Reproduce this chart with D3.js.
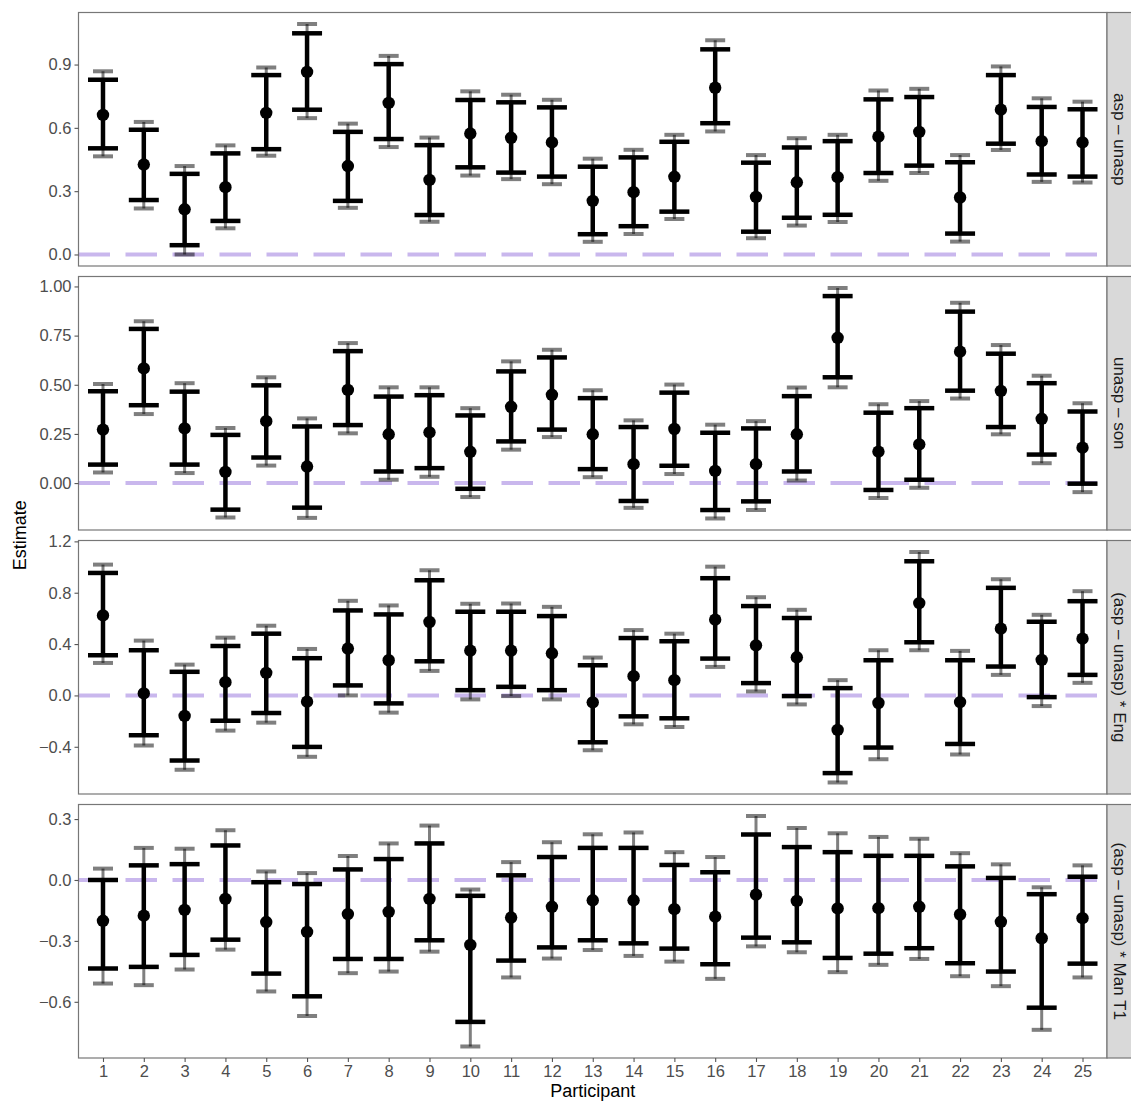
<!DOCTYPE html>
<html>
<head>
<meta charset="utf-8">
<script src="https://cdn.jsdelivr.net/npm/d3@7"></script>
<style>
  body { margin: 0; background: #fff; }
  svg text { font-family: "Liberation Sans", Arial, Helvetica, sans-serif; }
</style>
</head>
<body>
<div id="chart"></div>
<script>
// participants on the x axis
const participants = d3.range(1, 26);

const facetLabels = ["asp – unasp", "unasp – son", "(asp – unasp) * Eng", "(asp – unasp) * Man T1"];

// y tick values per facet
const ticks1 = [0, 0.3, 0.6, 0.9];
const ticks2 = [0, 0.25, 0.5, 0.75, 1.0];
const ticks3 = [-0.4, 0, 0.4, 0.8, 1.2];
const ticks4 = [-0.6, -0.3, 0, 0.3];

// asp - unasp
const est1     = [0.661,0.426,0.214,0.319,0.671,0.865,0.419,0.718,0.353,0.573,0.553,0.531,0.254,0.295,0.368,0.790,0.273,0.342,0.366,0.558,0.581,0.270,0.686,0.537,0.531];
const innerLo1 = [0.503,0.258,0.044,0.159,0.499,0.686,0.254,0.547,0.187,0.413,0.388,0.369,0.096,0.134,0.203,0.622,0.108,0.174,0.188,0.386,0.421,0.099,0.525,0.379,0.369];
const innerHi1 = [0.828,0.591,0.382,0.479,0.850,1.048,0.581,0.902,0.518,0.732,0.721,0.697,0.416,0.460,0.534,0.972,0.435,0.507,0.537,0.735,0.746,0.437,0.850,0.699,0.688];
const outerLo1 = [0.465,0.218,0.000,0.124,0.468,0.646,0.221,0.509,0.155,0.374,0.357,0.333,0.060,0.097,0.168,0.583,0.077,0.137,0.154,0.349,0.386,0.061,0.495,0.344,0.341];
const outerHi1 = [0.868,0.628,0.419,0.517,0.886,1.092,0.620,0.941,0.554,0.773,0.757,0.733,0.454,0.496,0.567,1.015,0.471,0.551,0.567,0.777,0.785,0.471,0.891,0.740,0.724];

// unasp - son
const est2     = [0.272,0.583,0.278,0.057,0.315,0.084,0.474,0.248,0.258,0.159,0.388,0.449,0.248,0.096,0.275,0.062,0.096,0.248,0.739,0.160,0.197,0.668,0.469,0.327,0.180];
const innerLo2 = [0.094,0.396,0.094,-0.135,0.130,-0.125,0.295,0.059,0.076,-0.029,0.212,0.272,0.071,-0.091,0.088,-0.137,-0.093,0.059,0.538,-0.035,0.017,0.470,0.285,0.145,-0.003];
const innerHi2 = [0.467,0.784,0.465,0.245,0.497,0.288,0.671,0.440,0.447,0.344,0.568,0.639,0.432,0.285,0.460,0.256,0.278,0.442,0.951,0.358,0.381,0.872,0.658,0.508,0.364];
const outerLo2 = [0.054,0.351,0.051,-0.175,0.089,-0.177,0.253,0.017,0.032,-0.071,0.170,0.234,0.030,-0.126,0.046,-0.180,-0.137,0.013,0.487,-0.076,-0.024,0.430,0.248,0.101,-0.046];
const outerHi2 = [0.504,0.823,0.508,0.280,0.538,0.329,0.712,0.487,0.487,0.381,0.619,0.678,0.472,0.319,0.501,0.297,0.315,0.486,0.992,0.401,0.417,0.917,0.702,0.546,0.406];

// (asp - unasp) * Eng
const est3     = [0.623,0.016,-0.160,0.103,0.176,-0.049,0.365,0.274,0.572,0.349,0.349,0.328,-0.054,0.150,0.119,0.590,0.390,0.297,-0.269,-0.059,0.719,-0.052,0.520,0.277,0.442];
const innerLo3 = [0.313,-0.310,-0.507,-0.197,-0.137,-0.401,0.078,-0.062,0.266,0.041,0.067,0.041,-0.365,-0.163,-0.178,0.287,0.096,-0.005,-0.605,-0.406,0.414,-0.378,0.225,-0.013,0.160];
const innerHi3 = [0.954,0.352,0.184,0.385,0.481,0.290,0.662,0.631,0.897,0.652,0.652,0.618,0.235,0.447,0.422,0.913,0.696,0.603,0.057,0.274,1.045,0.274,0.838,0.574,0.734];
const outerLo3 = [0.253,-0.390,-0.579,-0.274,-0.212,-0.478,0.000,-0.134,0.191,-0.031,-0.005,-0.031,-0.427,-0.225,-0.246,0.222,0.031,-0.070,-0.678,-0.497,0.352,-0.460,0.160,-0.083,0.098];
const outerHi3 = [1.019,0.427,0.240,0.450,0.543,0.362,0.737,0.701,0.975,0.714,0.716,0.690,0.295,0.509,0.481,1.003,0.765,0.667,0.119,0.352,1.117,0.347,0.905,0.628,0.812];

// (asp - unasp) * Man T1
const est4     = [-0.201,-0.176,-0.147,-0.093,-0.207,-0.256,-0.168,-0.157,-0.093,-0.320,-0.185,-0.132,-0.100,-0.100,-0.144,-0.181,-0.072,-0.103,-0.140,-0.139,-0.132,-0.170,-0.206,-0.287,-0.188];
const innerLo4 = [-0.436,-0.428,-0.369,-0.294,-0.461,-0.573,-0.389,-0.389,-0.297,-0.699,-0.397,-0.332,-0.297,-0.312,-0.338,-0.415,-0.284,-0.307,-0.384,-0.363,-0.336,-0.410,-0.451,-0.629,-0.412];
const innerHi4 = [0.000,0.072,0.078,0.170,-0.011,-0.020,0.052,0.103,0.180,-0.078,0.023,0.113,0.158,0.158,0.074,0.038,0.224,0.162,0.137,0.119,0.119,0.067,0.010,-0.070,0.016];
const outerLo4 = [-0.510,-0.518,-0.441,-0.343,-0.549,-0.670,-0.459,-0.451,-0.353,-0.820,-0.480,-0.387,-0.345,-0.374,-0.402,-0.487,-0.327,-0.356,-0.454,-0.418,-0.389,-0.474,-0.523,-0.738,-0.480];
const outerHi4 = [0.056,0.158,0.154,0.245,0.042,0.034,0.118,0.180,0.268,-0.047,0.088,0.186,0.225,0.234,0.137,0.113,0.315,0.256,0.230,0.212,0.203,0.132,0.077,-0.036,0.072];

const facets = [
  {label: facetLabels[0], ticks: ticks1, fmt: d3.format(".1f"), est: est1, iLo: innerLo1, iHi: innerHi1, oLo: outerLo1, oHi: outerHi1},
  {label: facetLabels[1], ticks: ticks2, fmt: d3.format(".2f"), est: est2, iLo: innerLo2, iHi: innerHi2, oLo: outerLo2, oHi: outerHi2},
  {label: facetLabels[2], ticks: ticks3, fmt: d3.format(".1f"), est: est3, iLo: innerLo3, iHi: innerHi3, oLo: outerLo3, oHi: outerHi3},
  {label: facetLabels[3], ticks: ticks4, fmt: d3.format(".1f"), est: est4, iLo: innerLo4, iHi: innerHi4, oLo: outerLo4, oHi: outerHi4}
];

const W = 1131, H = 1102;
const left = 78.5, right = 1107, panelH = 253.5, panelStep = 264, top0 = 12.5;
const stripW = 26;
const borderCol = "#777";

const svg = d3.select("#chart").append("svg").attr("width", W).attr("height", H);

const x = d3.scalePoint().domain(participants).range([left, right]).padding(0.6);

facets.forEach((f, k) => {
  const top = top0 + k * panelStep, bottom = top + panelH;
  // ggplot-like 5% expansion
  const lo = Math.min(0, d3.min(f.oLo)), hi = Math.max(0, d3.max(f.oHi));
  const pad = (hi - lo) * 0.05;
  const y = d3.scaleLinear().domain([lo - pad, hi + pad]).range([bottom, top]);

  const rows = participants.map((p, i) => ({p, est: f.est[i], iLo: f.iLo[i], iHi: f.iHi[i], oLo: f.oLo[i], oHi: f.oHi[i]}));

  const g = svg.append("g");

  // zero line
  g.append("line")
    .attr("x1", left).attr("x2", right)
    .attr("y1", y(0)).attr("y2", y(0))
    .attr("stroke", "mediumpurple").attr("stroke-opacity", 0.5)
    .attr("stroke-width", 4).attr("stroke-dasharray", "31.5,15.5");

  // outer (wide) interval, translucent
  const outer = g.append("g").attr("stroke", "rgba(0,0,0,0.5)");
  outer.selectAll(".ov").data(rows).enter().append("line")
    .attr("x1", d => x(d.p)).attr("x2", d => x(d.p))
    .attr("y1", d => y(d.oLo)).attr("y2", d => y(d.oHi))
    .attr("stroke-width", 3);
  ["oLo", "oHi"].forEach(key => {
    outer.selectAll(".oc-" + key).data(rows).enter().append("line")
      .attr("x1", d => x(d.p) - 10).attr("x2", d => x(d.p) + 10)
      .attr("y1", d => y(d[key])).attr("y2", d => y(d[key]))
      .attr("stroke-width", 4);
  });

  // inner interval, black
  const inner = g.append("g").attr("stroke", "#000");
  inner.selectAll(".iv").data(rows).enter().append("line")
    .attr("x1", d => x(d.p)).attr("x2", d => x(d.p))
    .attr("y1", d => y(d.iLo)).attr("y2", d => y(d.iHi))
    .attr("stroke-width", 4.5);
  ["iLo", "iHi"].forEach(key => {
    inner.selectAll(".ic-" + key).data(rows).enter().append("line")
      .attr("x1", d => x(d.p) - 15).attr("x2", d => x(d.p) + 15)
      .attr("y1", d => y(d[key])).attr("y2", d => y(d[key]))
      .attr("stroke-width", 4.5);
  });

  // point estimates
  g.selectAll(".pt").data(rows).enter().append("circle")
    .attr("cx", d => x(d.p)).attr("cy", d => y(d.est)).attr("r", 6.2)
    .attr("fill", "#000");

  // panel border
  g.append("rect")
    .attr("x", left).attr("y", top).attr("width", right - left).attr("height", panelH)
    .attr("fill", "none").attr("stroke", borderCol).attr("stroke-width", 1.2);

  // y axis
  const ya = g.append("g").attr("transform", `translate(${left},0)`)
    .call(d3.axisLeft(y).tickValues(f.ticks).tickSize(4).tickPadding(3)
      .tickFormat(v => f.fmt(v).replace("-", "\u2212")));
  ya.select(".domain").remove();
  ya.selectAll(".tick line").attr("stroke", "#555").attr("stroke-width", 1.1);
  ya.selectAll(".tick text").attr("fill", "#4d4d4d").style("font-size", "16.5px");

  // strip
  g.append("rect")
    .attr("x", right).attr("y", top).attr("width", stripW).attr("height", panelH)
    .attr("fill", "#d9d9d9").attr("stroke", borderCol).attr("stroke-width", 1.2);
  g.append("text")
    .attr("transform", `translate(${right + 13},${top + panelH / 2}) rotate(90)`)
    .attr("text-anchor", "middle").attr("dy", "0.35em")
    .attr("fill", "#1a1a1a").style("font-size", "17px")
    .text(f.label);

  // x axis on the bottom panel
  if (k === facets.length - 1) {
    const xa = g.append("g").attr("transform", `translate(0,${bottom})`)
      .call(d3.axisBottom(x).tickSize(4).tickPadding(3));
    xa.select(".domain").remove();
    xa.selectAll(".tick line").attr("stroke", "#555").attr("stroke-width", 1.1);
    xa.selectAll(".tick text").attr("fill", "#4d4d4d").style("font-size", "16.5px");
  }
});

// axis titles
svg.append("text")
  .attr("x", (left + right) / 2).attr("y", 1097)
  .attr("text-anchor", "middle").style("font-size", "18px").attr("fill", "#000")
  .text("Participant");

svg.append("text")
  .attr("transform", `translate(26,${(top0 + top0 + 3 * panelStep + panelH) / 2}) rotate(-90)`)
  .attr("text-anchor", "middle").style("font-size", "18px").attr("fill", "#000")
  .text("Estimate");
</script>
</body>
</html>
